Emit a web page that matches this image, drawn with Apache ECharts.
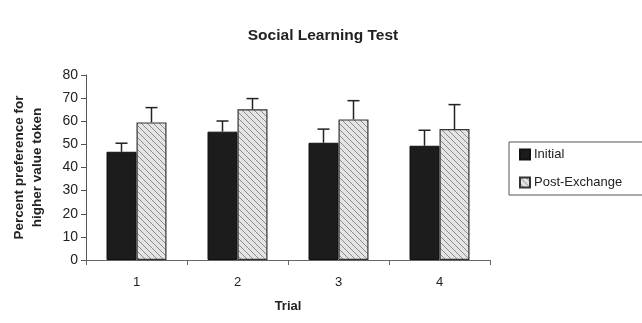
<!DOCTYPE html>
<html><head><meta charset="utf-8">
<script src="https://cdn.jsdelivr.net/npm/echarts@6/dist/echarts.min.js"></script>
<style>html,body{margin:0;padding:0;background:#fff}#c{width:642px;height:323px}</style>
</head><body><div id="c"></div>
<script>
const categories = ['1', '2', '3', '4'];
const initialValues = [46.8, 55.5, 50.7, 49.4];
const initialErrTop = [50.5, 60.1, 56.6, 56.1];
const postValues = [59.5, 65.2, 60.8, 56.6];
const postErrTop = [65.9, 69.8, 68.9, 67.2];
const yTicks = [0, 10, 20, 30, 40, 50, 60, 70, 80];

function makeHatch() {
  const c = document.createElement('canvas');
  c.width = 6; c.height = 6;
  const g = c.getContext('2d');
  g.fillStyle = '#e4e4e4'; g.fillRect(0, 0, 6, 6);
  g.strokeStyle = '#8c8c8c'; g.lineWidth = 1;
  g.beginPath();
  g.moveTo(0, 0); g.lineTo(6, 6);
  g.moveTo(-3, 3); g.lineTo(3, 9);
  g.moveTo(3, -3); g.lineTo(9, 3);
  g.stroke();
  return c;
}
const hatch = { image: makeHatch(), repeat: 'repeat' };
const FONT = 'Liberation Sans, Arial, sans-serif';

function errRender(offset) {
  return function (params, api) {
    const x = api.value(0);
    const p0 = api.coord([x, api.value(1)]);
    const p1 = api.coord([x, api.value(2)]);
    const cx = p0[0] + offset;
    return {
      type: 'group',
      children: [
        { type: 'line', shape: { x1: cx, y1: p0[1], x2: cx, y2: p1[1] }, style: { stroke: '#222', lineWidth: 1.5 } },
        { type: 'line', shape: { x1: cx - 6, y1: p1[1], x2: cx + 6, y2: p1[1] }, style: { stroke: '#222', lineWidth: 1.5 } }
      ]
    };
  };
}

const chart = echarts.init(document.getElementById('c'), null, { renderer: 'canvas' });
chart.setOption({
  animation: false,
  backgroundColor: '#fff',
  textStyle: { fontFamily: FONT },
  title: {
    text: 'Social Learning Test', left: 318, top: 23, textAlign: 'center',
    textStyle: { fontSize: 15.5, fontWeight: 'bold', color: '#222', fontFamily: FONT }
  },
  legend: {
    orient: 'vertical', left: 514, top: 143, itemWidth: 10, itemHeight: 10, itemGap: 15,
    icon: 'rect',
    textStyle: { fontSize: 13, color: '#222', fontFamily: FONT, padding: [0, 0, 0, -1] },
    data: ['Initial', 'Post-Exchange']
  },
  graphic: [{
    type: 'rect', shape: { x: 509, y: 142, width: 160, height: 53 },
    style: { fill: 'none', stroke: '#555', lineWidth: 1 }, z: 100
  }],
  grid: { left: 86, right: 152, top: 75, bottom: 63, containLabel: false, outerBoundsMode: 'none' },
  xAxis: {
    type: 'category', data: categories,
    name: 'Trial', nameLocation: 'middle', nameGap: 40,
    nameTextStyle: { fontSize: 13, fontWeight: 'bold', color: '#222', fontFamily: FONT },
    axisLine: { lineStyle: { color: '#666', width: 1 } },
    axisTick: { show: true, length: 5, lineStyle: { color: '#666' } },
    axisLabel: { fontSize: 13, color: '#222', margin: 16, fontFamily: FONT }
  },
  yAxis: {
    type: 'value', min: 0, max: 80, interval: 10,
    name: 'Percent preference for\nhigher value token', nameLocation: 'middle', nameGap: 40,
    nameTextStyle: { fontSize: 13.5, fontWeight: 'bold', color: '#222', lineHeight: 18, fontFamily: FONT },
    axisLine: { show: true, lineStyle: { color: '#555', width: 1 } },
    axisTick: { show: true, length: 5, lineStyle: { color: '#555' } },
    axisLabel: { fontSize: 14, color: '#222', margin: 8, fontFamily: FONT,
      formatter: v => yTicks.includes(v) ? String(v) : '' },
    splitLine: { show: false }
  },
  series: [
    {
      name: 'Initial', type: 'bar', data: initialValues, barWidth: 30, barGap: '0%',
      itemStyle: { color: '#1c1c1c', borderColor: '#111', borderWidth: 1 }
    },
    {
      name: 'Post-Exchange', type: 'bar', data: postValues, barWidth: 30, barGap: '0%',
      itemStyle: { color: hatch, borderColor: '#333', borderWidth: 1.2 }
    },
    {
      type: 'custom', renderItem: errRender(-15), z: 10, silent: true,
      data: categories.map((c, i) => [i, initialValues[i], initialErrTop[i]])
    },
    {
      type: 'custom', renderItem: errRender(15), z: 10, silent: true,
      data: categories.map((c, i) => [i, postValues[i], postErrTop[i]])
    }
  ]
});
</script></body></html>
